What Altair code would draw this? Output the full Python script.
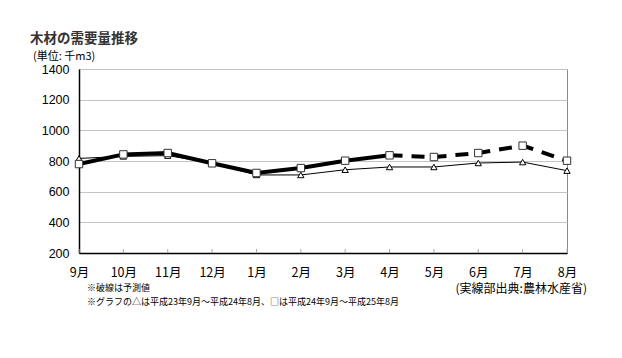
import altair as alt
import pandas as pd

months = ["9月", "10月", "11月", "12月", "1月", "2月", "3月", "4月", "5月", "6月", "7月", "8月"]
prev_year = [817, 830, 835, 787, 709, 709, 743, 761, 761, 787, 793, 737]   # △ H23.9–H24.8
curr_year = [780, 843, 852, 785, 722, 754, 802, 837, 826, 852, 900, 802]   # □ H24.9–H25.8
n_actual = 8  # 9月〜4月 are actual values, the rest are forecasts
y_ticks = [200, 400, 600, 800, 1000, 1200, 1400]

title_text = "木材の需要量推移"
unit_text = "(単位: 千m3)"
note1 = "※破線は予測値"
note2 = "※グラフの△は平成23年9月～平成24年8月、□は平成24年9月～平成25年8月"
source_text = "(実線部出典:農林水産省)"

prev_df = pd.DataFrame({"month": months, "value": prev_year})
curr_df = pd.DataFrame({"month": months, "value": curr_year})
solid_df = curr_df.iloc[:n_actual].copy()
dash_df = curr_df.iloc[n_actual - 1:].copy()

x_enc = alt.X("month:N", sort=months, scale=alt.Scale(type="point", padding=0),
              axis=alt.Axis(title=None, ticks=False, labelPadding=13, labelFontSize=12.5,
                            labelFont="Noto Sans CJK JP", labelColor="#000", labelAngle=0,
                            labelOverlap=False, labelFlush=False,
                            domainColor="#000", domainWidth=1.5, grid=False))
y_enc = alt.Y("value:Q", scale=alt.Scale(domain=[200, 1400], nice=False),
              axis=alt.Axis(title=None, values=y_ticks, format="d",
                            ticks=False, labelPadding=10, labelFontSize=12.5,
                            labelFont="Liberation Sans", labelColor="#000",
                            labelOverlap=False, labelFlush=False,
                            domainColor="#000", domainWidth=1.5,
                            gridColor="#c4c4c4", gridWidth=1))

grid_ticks = alt.Chart(prev_df).mark_rule(color="#aaa", strokeWidth=1).encode(
    x=x_enc, y=alt.value(184), y2=alt.value(180))

prev_line = alt.Chart(prev_df).mark_line(color="#000", strokeWidth=1).encode(x=x_enc, y=y_enc)
prev_pts = alt.Chart(prev_df).mark_point(shape="triangle-up", filled=True, fill="white",
                                         stroke="#000", strokeWidth=1, size=40, opacity=1).encode(
    x=x_enc, y=y_enc)

solid_line = alt.Chart(solid_df).mark_line(color="#000", strokeWidth=4).encode(x=x_enc, y=y_enc)
dash_line = alt.Chart(dash_df).mark_line(color="#000", strokeWidth=4,
                                         strokeDash=[13, 9]).encode(x=x_enc, y=y_enc)
curr_pts = alt.Chart(curr_df).mark_point(shape="square", filled=True, fill="white",
                                         stroke="#333", strokeWidth=1, size=55, opacity=1).encode(
    x=x_enc, y=y_enc)

def label(text, x, y, size, align="left", weight="normal", color="#000", font="Noto Sans CJK JP"):
    return alt.Chart(pd.DataFrame({"t": [text]})).mark_text(
        align=align, baseline="middle", fontSize=size, fontWeight=weight,
        color=color, font=font).encode(text="t:N", x=alt.value(x), y=alt.value(y))

texts = [
    label(title_text, -49, -30, 13.5, weight="bold", color="#333"),
    label(unit_text, -46, -12, 11),
    label(note1, 8, 219, 9),
    label(note2, 8, 233, 9),
    label(source_text, 508, 220, 12, align="right"),
]

chart = alt.layer(prev_line, grid_ticks, prev_pts, solid_line, dash_line, curr_pts, *texts).properties(
    width=488, height=184,
    autosize=alt.AutoSizeParams(type="none"),
    padding={"left": 71, "top": 61, "right": 47, "bottom": 97},
    background="white",
).configure_view(stroke="#888", strokeWidth=1)

chart.save("out.html", embed_options={"renderer": "svg", "actions": False})
